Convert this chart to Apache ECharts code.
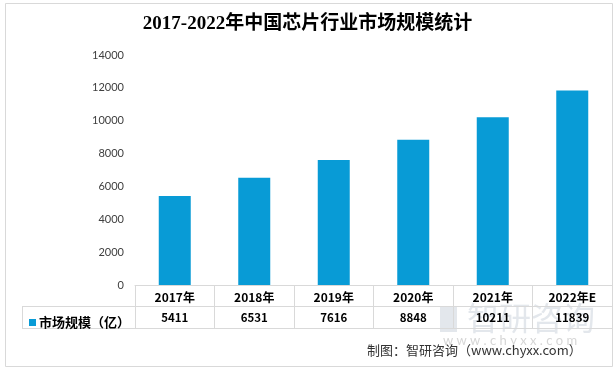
<!DOCTYPE html>
<html><head><meta charset="utf-8">
<script src="https://cdn.jsdelivr.net/npm/echarts@6/dist/echarts.min.js"></script>
<style>html,body{margin:0;padding:0;background:#fff}#c{width:615px;height:370px}</style>
</head><body><div id="c"></div>
<script>
const titleText = '2017-2022年中国芯片行业市场规模统计';
const categories = ['2017年','2018年','2019年','2020年','2021年','2022年E'];
const marketSize = [5411, 6531, 7616, 8848, 10211, 11839];
const seriesName = '市场规模（亿）';
const yTicks = [0, 2000, 4000, 6000, 8000, 10000, 12000, 14000];
const sourceText = '制图：智研咨询（www.chyxx.com）';

const GL = 135, GR = 612, GT = 55, GB = 285;
const lineC = '#d9d9d9';
const cjk = '"Noto Sans CJK SC","Microsoft YaHei",sans-serif';

const chart = echarts.init(document.getElementById('c'));
chart.setOption({
  backgroundColor: '#fff',
  animation: false,
  title: {
    text: titleText, left: 'center', top: 10,
    textStyle: {fontFamily: '"Liberation Serif","Noto Sans CJK SC",serif', fontSize: 19, fontWeight: 'bold', color: '#000'}
  },
  legend: {
    data: [seriesName], left: 24, top: 311, icon: 'rect', itemWidth: 7, itemHeight: 7, itemGap: 2,
    textStyle: {fontFamily: cjk, fontSize: 13, fontWeight: 'bold', color: '#000', padding: [0,0,0,-2]}
  },
  grid: {left: GL, right: 615 - GR, top: GT, bottom: 370 - GB, containLabel: false},
  xAxis: [{
    type: 'category', data: categories, position: 'bottom',
    axisLine: {show: true, lineStyle: {color: lineC}},
    axisTick: {show: true, length: 43, alignWithLabel: false, lineStyle: {color: lineC}},
    axisLabel: {margin: 6, fontFamily: cjk, fontSize: 12, fontWeight: 'bold', color: '#000'}
  }, {
    type: 'category', data: marketSize.map(String), position: 'bottom', offset: 22,
    axisLine: {show: false}, axisTick: {show: false},
    axisLabel: {margin: 5, fontFamily: cjk, fontSize: 11.5, fontWeight: 'bold', color: '#000'}
  }],
  yAxis: {
    type: 'value', min: yTicks[0], max: yTicks[yTicks.length-1], interval: 2000,
    axisLine: {show: false}, axisTick: {show: false}, splitLine: {show: false},
    axisLabel: {margin: 11, fontFamily: 'Lato,"Noto Sans",sans-serif', fontSize: 11, color: '#404040',
      formatter: v => String(v)}
  },
  series: [{
    name: seriesName, type: 'bar', data: marketSize, barWidth: 32,
    itemStyle: {color: '#089BD6'}
  }],
  graphic: [
    {type: 'rect', z: -10, shape: {x: 5.5, y: 3.5, width: 607, height: 363}, style: {fill: 'none', stroke: '#d9d9d9', lineWidth: 1}},
    {type: 'line', shape: {x1: 22, y1: 306.5, x2: GR, y2: 306.5}, style: {stroke: lineC, lineWidth: 1}},
    {type: 'line', shape: {x1: 22, y1: 328.5, x2: GR, y2: 328.5}, style: {stroke: lineC, lineWidth: 1}},
    {type: 'line', shape: {x1: 22.5, y1: 306.5, x2: 22.5, y2: 328.5}, style: {stroke: lineC, lineWidth: 1}},
    {type: 'text', z: -5, left: 467, top: 302, style: {text: '智研咨询', fontFamily: cjk, fontSize: 32, fill: '#e3e7ec'}},
    {type: 'rect', z: -5, shape: {x: 440, y: 306, width: 17, height: 26}, style: {fill: '#e3e7ec'}},
    {type: 'text', z: -5, left: 443, top: 334, style: {text: 'w w w . c h y x x . c o m', fontFamily: 'Lato,sans-serif', fontSize: 13, fill: '#d6d6d6'}},
    {type: 'text', left: 367, top: 344, style: {text: sourceText, fontFamily: cjk, fontSize: 13, fill: '#333'}}
  ]
});
</script></body></html>
